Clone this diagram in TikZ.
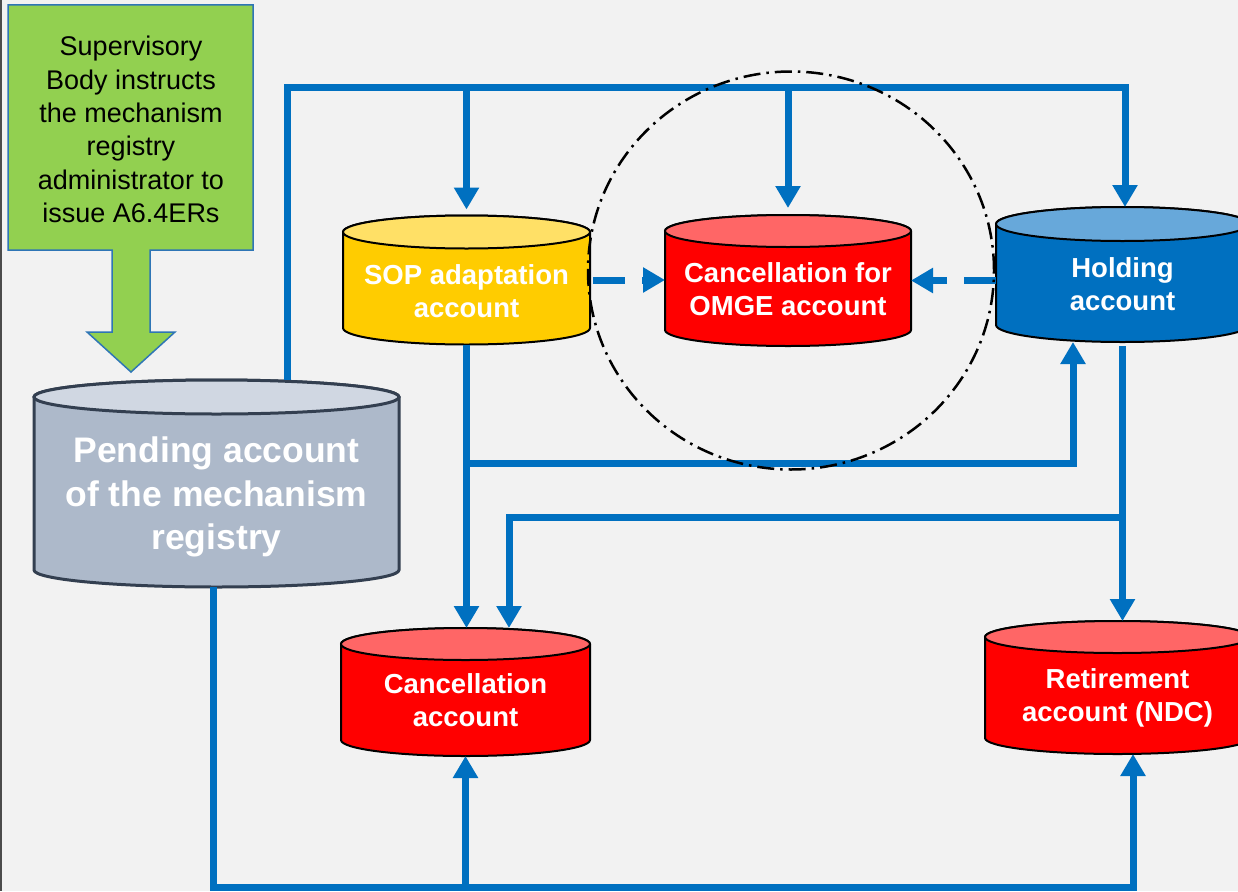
\documentclass[tikz,border=0pt]{standalone}
\usepackage{fontspec}
\setmainfont{Liberation Sans}
\usetikzlibrary{arrows.meta,calc}
\definecolor{bg}{HTML}{F2F2F2}
\definecolor{flowblue}{HTML}{0070C0}
\definecolor{greenfill}{HTML}{92D050}
\definecolor{greenedge}{HTML}{2E75B6}
\definecolor{pendbody}{HTML}{ADB9CA}
\definecolor{pendtop}{HTML}{D0D7E2}
\definecolor{penddraw}{HTML}{333F50}
\definecolor{sopbody}{HTML}{FFCC00}
\definecolor{soptop}{HTML}{FFE066}
\definecolor{redbody}{HTML}{FF0000}
\definecolor{redtop}{HTML}{FF6666}
\definecolor{holdbody}{HTML}{0070C0}
\definecolor{holdtop}{HTML}{67A8DA}
\tikzset{
  flow/.style={draw=flowblue, line width=7pt, -{Triangle[length=22pt,width=24pt]}},
  dashflow/.style={flow, dash pattern=on 32pt off 17pt},
  pendstyle/.style={fill=pendbody, draw=penddraw, line width=3pt},
  sopstyle/.style={fill=sopbody, draw=black, line width=2pt},
  redstyle/.style={fill=redbody, draw=black, line width=2pt},
  holdstyle/.style={fill=holdbody, draw=black, line width=2pt},
  cyltext/.style={text=white, font=\bfseries\fontsize{27.5}{33}\selectfont, align=center, inner sep=0pt},
}
\newcommand{\drawcyl}[8]{%
  \path[#7] ({#2-#5},{-#3}) -- ({#2-#5},{-#4}) arc[start angle=180,end angle=360,x radius=#5,y radius=#6] -- ({#2+#5},{-#3}) arc[start angle=0,end angle=180,x radius=#5,y radius=#6] -- cycle;
  \path[#7, fill=#8] (#2,{-#3}) ellipse [x radius=#5, y radius=#6];
  \node[inner sep=0pt, outer sep=0pt, minimum width={2*#5}, minimum height={#4-#3+2*#6}] (#1) at (#2,{-(#3+#4)/2}) {};
}
\begin{document}
\begin{tikzpicture}[x=1pt,y=1pt]
\fill[bg] (0,0) rectangle (1238,-891);
\useasboundingbox (0,0) rectangle (1238,-891);
\clip (0,0) rectangle (1238,-891);
\draw[draw=black!70, line width=1.5pt] (0.75,0) -- (0.75,-891);

% green callout
\draw[fill=greenfill, draw=greenedge, line width=1.5pt] (8,-5) -- (253,-5) -- (253,-250) -- (150,-250) -- (150,-332) -- (175,-332) -- (131,-372) -- (87,-332) -- (112,-332) -- (112,-250) -- (8,-250) -- cycle;
\node[font=\fontsize{27}{33.4}\selectfont, align=center, inner sep=0pt] (sb) at (131,-129.5) {Supervisory\\Body instructs\\the mechanism\\registry\\administrator to\\issue A6.4ERs};

% cylinders
\drawcyl{pend}{216.5}{397}{570}{182.5}{17}{pendstyle}{pendtop}
\drawcyl{sop}{466.5}{232}{328}{123.5}{16.5}{sopstyle}{soptop}
\drawcyl{omge}{788}{231}{330}{123}{16}{redstyle}{redtop}
\drawcyl{hold}{1122.5}{224}{325}{126.5}{17}{holdstyle}{holdtop}
\drawcyl{canc}{465.5}{644}{740}{124.5}{16}{redstyle}{redtop}
\drawcyl{ret}{1117.5}{637}{738}{132.5}{16}{redstyle}{redtop}

\node[text=white, font=\bfseries\fontsize{35.5}{43.5}\selectfont, align=center, inner sep=0pt] (pendt) at (216.5,-497) {Pending account\\of the mechanism\\registry};
\node[cyltext] (sopt) at (466.5,-291) {SOP adaptation\\account};
\node[cyltext] (omget) at (788,-289) {Cancellation for\\OMGE account};
\node[cyltext] (holdt) at (1122.5,-284) {Holding\\account};
\node[cyltext] (canct) at (465.5,-700) {Cancellation\\account};
\node[cyltext] (rett) at (1117.5,-697.5) {Retirement\\account (NDC)};

% connectors
\coordinate (busL) at (287,-87);
\coordinate (busR) at (1125,-87);
\draw[flow] (pend.north -| busL) -- (busL) -- (busR) -- (busR |- hold.north);
\draw[flow] (busL -| sop.north) -- ([yshift=6pt]sop.north);
\draw[flow] (busL -| omge.north) -- ([yshift=7pt]omge.north);

\draw[dashflow, shorten <=3pt] (sop.east) -- (sop.east -| omge.west);
\draw[dashflow] (hold.west |- omge.east) -- (omge.east);

\coordinate (hup) at (1073,-463);
\draw[flow] (sop.south) -- (sop.south |- canc.north);
\draw[flow] (sop.south |- hup) -- (hup) -- (hup |- hold.south);

\coordinate (hl) at (509,-517);
\draw[flow, shorten <=4pt] (hold.south) -- (hold.south |- ret.north);
\draw[flow] (hold.south |- hl) -- (hl) -- (hl |- canc.north);

\coordinate (bl) at (213,-887);
\coordinate (br) at (1133,-887);
\draw[flow] (bl |- pend.south) -- (bl) -- (br) -- (br |- ret.south);
\draw[flow] (canc.south |- bl) -- (canc.south);

% dash-dot grouping circle
\draw[black, line width=2.5pt, dash pattern=on 17pt off 6pt on 2.5pt off 6pt] (791,-270.5) ellipse [x radius=203, y radius=199];
\end{tikzpicture}
\end{document}
